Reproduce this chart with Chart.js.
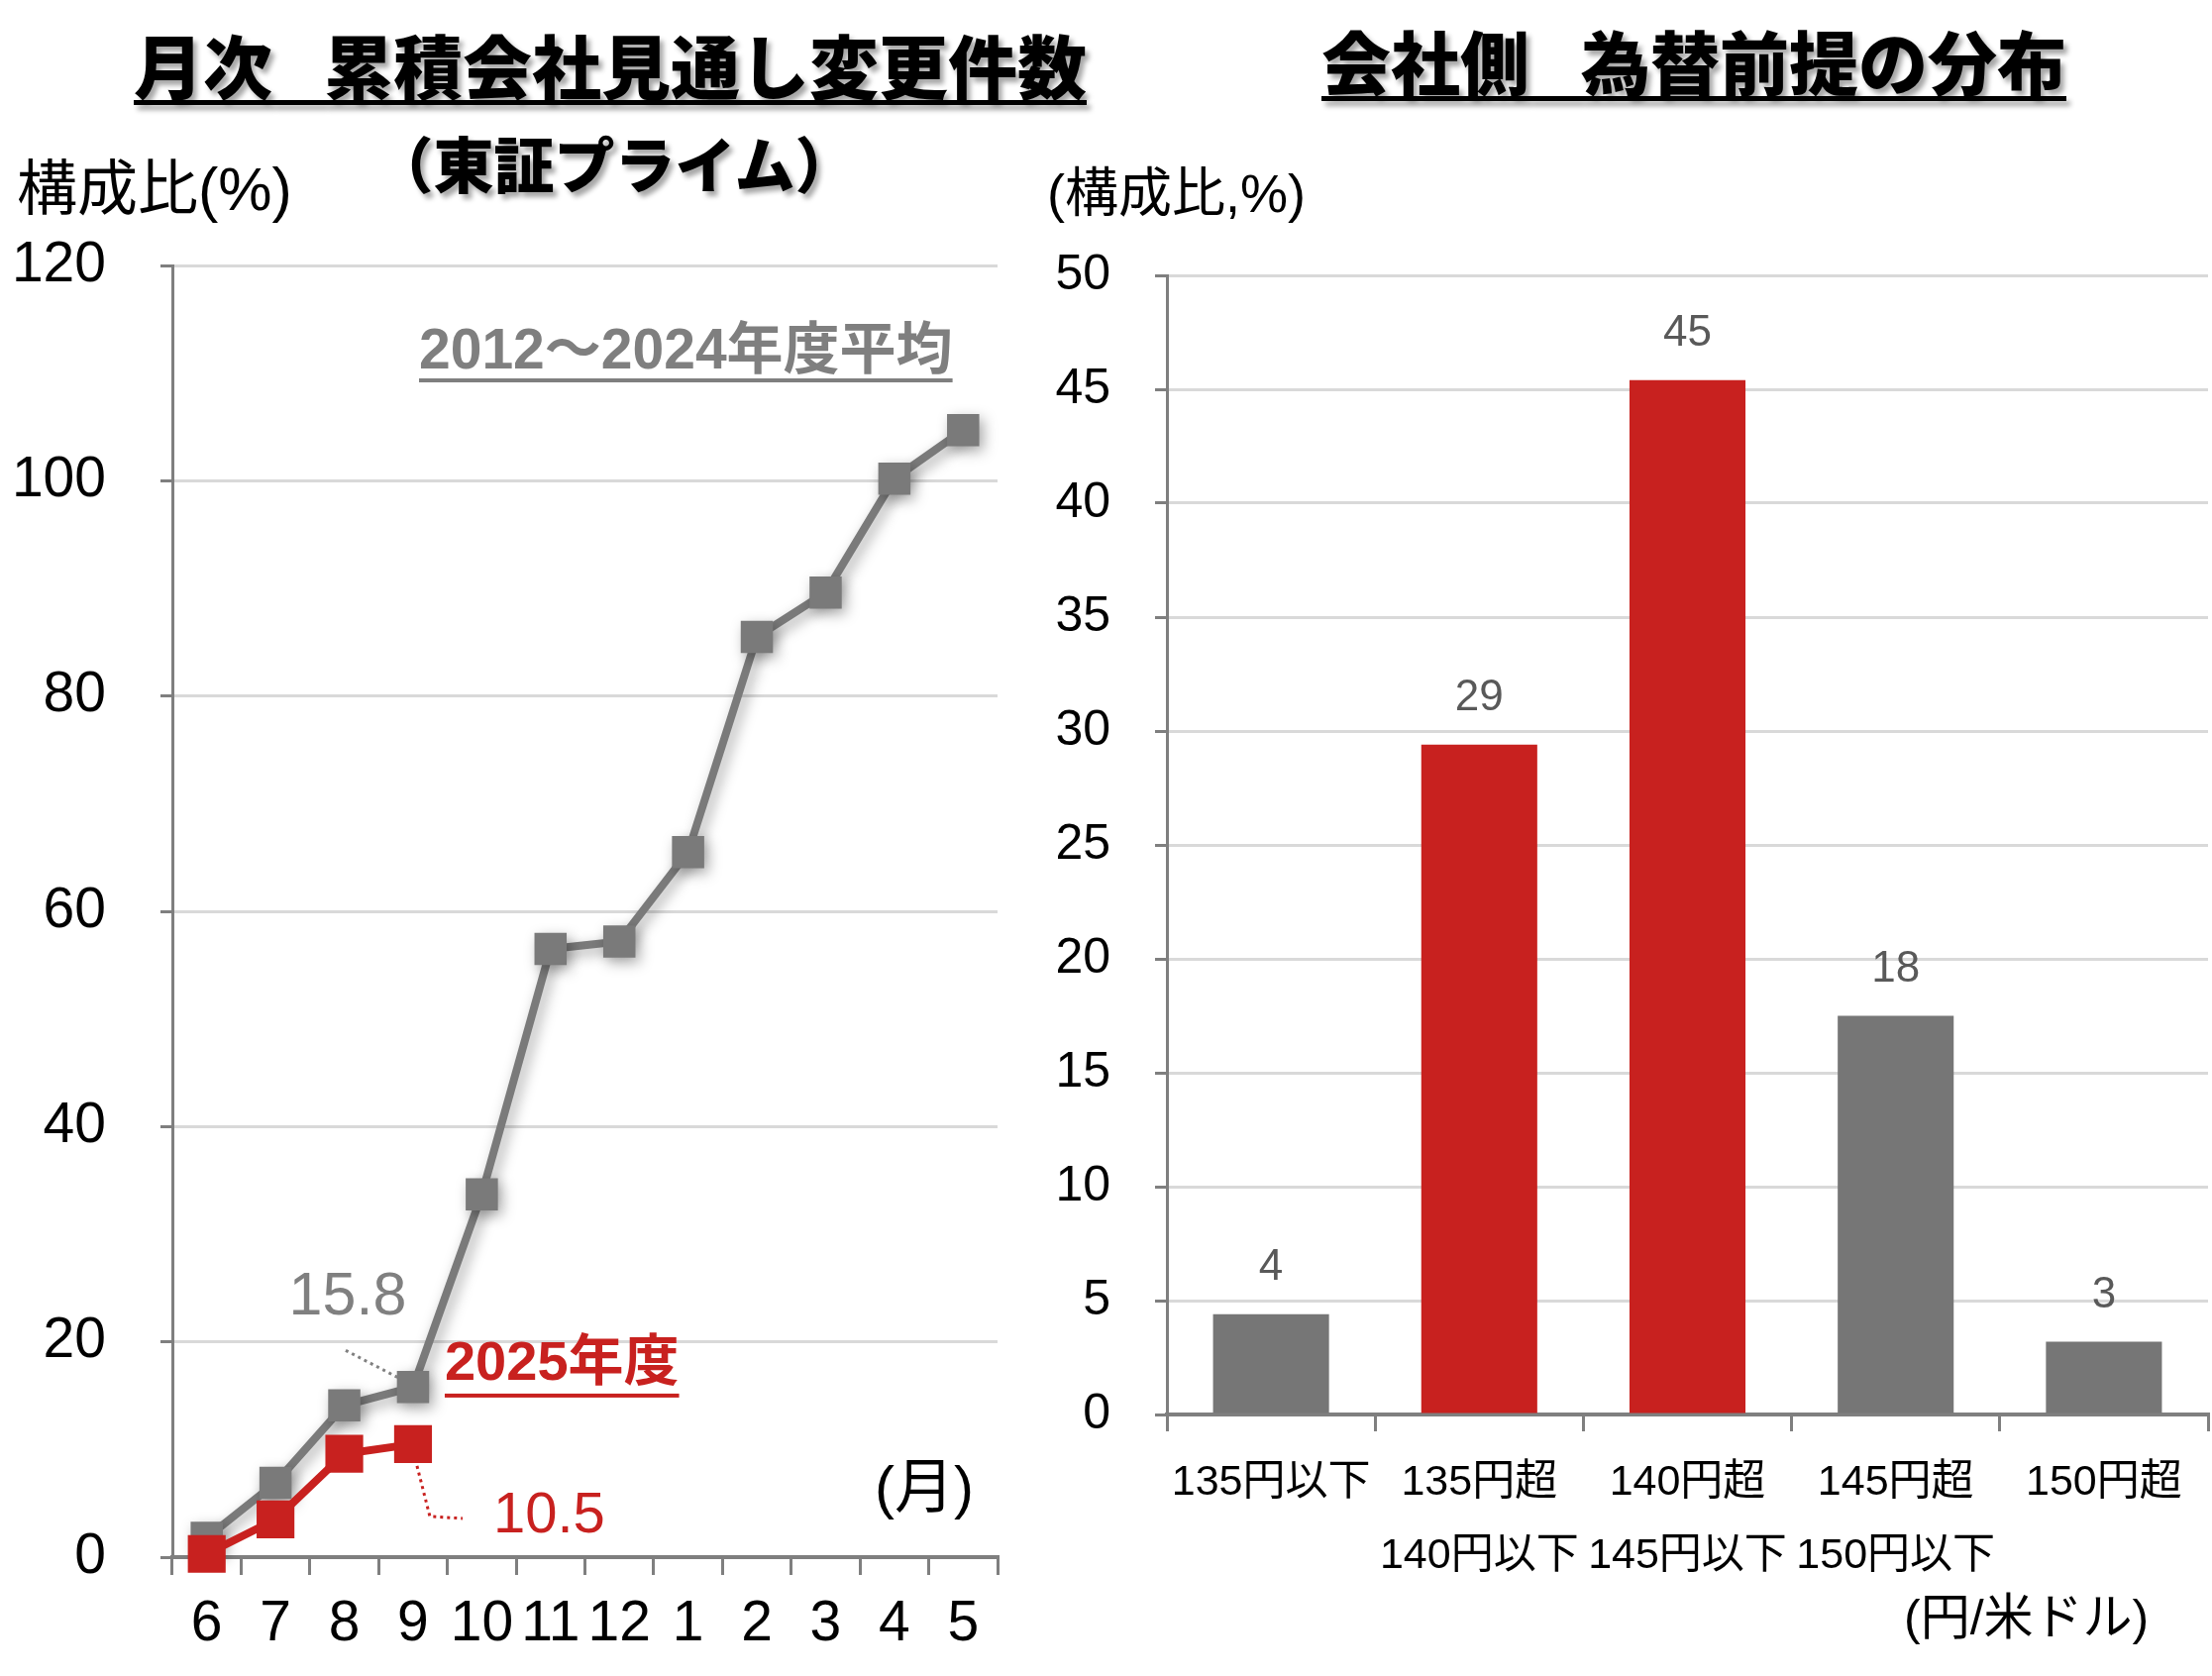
<!DOCTYPE html>
<html lang="ja">
<head>
<meta charset="utf-8">
<title>累積会社見通し変更件数・為替前提の分布</title>
<script src="https://cdn.jsdelivr.net/npm/chart.js@4.4.1/dist/chart.umd.min.js"></script>
<style>
  html, body { margin: 0; padding: 0; background: #fff; }
  body {
    width: 2233px; height: 1692px; position: relative; overflow: hidden;
    font-family: "Liberation Sans", Arial, "Noto Sans CJK JP", sans-serif;
  }
  .pane { position: absolute; top: 0; }
  .title {
    position: absolute; white-space: nowrap; line-height: 1; color: #000;
    font-family: "Noto Sans CJK JP", sans-serif; font-weight: 900;
    text-shadow: 4px 5px 5px rgba(0, 0, 0, 0.35);
  }
  .under { text-decoration: underline; text-decoration-thickness: 5px; text-underline-offset: 6px; }
  .gap { letter-spacing: -18px; }
  .label { position: absolute; white-space: nowrap; line-height: 1; color: #000; }
</style>
</head>
<body>

<div class="title under" style="left:135px; top:30px; font-size:70px;">月次<span class="gap">　</span>累積会社見通し変更件数</div>
<div class="title" style="left:320px; width:600px; text-align:center; top:133px; font-size:61px;">（東証プライム）</div>
<div class="title under" style="left:1334px; top:26px; font-size:70px;">会社側<span class="gap">　</span>為替前提の分布</div>

<div class="label" style="left:17px; top:161px; font-size:61px;">構成比(%)</div>
<div class="label" style="left:1057px; top:168px; font-size:54px;">(構成比,%)</div>
<div class="label" style="left:1922px; top:1608px; font-size:50px;">(円/米ドル)</div>

<div class="pane" style="left:0; width:1040px; height:1692px;">
  <canvas id="lineChart" width="1040" height="1692"></canvas>
</div>
<div class="pane" style="left:1040px; width:1193px; height:1692px;">
  <canvas id="barChart" width="1193" height="1692"></canvas>
</div>

<script>
// 月次 累積会社見通し変更件数（構成比、%）
const months = ["6", "7", "8", "9", "10", "11", "12", "1", "2", "3", "4", "5"];
const avg2012to2024 = [1.8, 6.9, 14.1, 15.8, 33.7, 56.5, 57.2, 65.5, 85.5, 89.6, 100.2, 104.7];
const fy2025 = [0.3, 3.5, 9.6, 10.5];

// 会社側 為替前提の分布（構成比、%）
const fxBands = [
  ["135円以下"],
  ["135円超", "140円以下"],
  ["140円超", "145円以下"],
  ["145円超", "150円以下"],
  ["150円超"],
];
const fxShares = [4.4, 29.4, 45.4, 17.5, 3.2];
const fxHighlight = [false, true, true, false, false];

const RED = "#c8211f";
const GRAY = "#7a7a7a";
const AXIS = "#7f7f7f";
const GRID = "#d9d9d9";

Chart.defaults.font.family = '"Liberation Sans", Arial, "Noto Sans CJK JP", sans-serif';
Chart.defaults.color = "#000";

// shadow under the gray average line
const lineShadow = {
  id: "lineShadow",
  beforeDatasetDraw(chart, args) {
    if (args.index !== 1) return;
    const ctx = chart.ctx;
    ctx.save();
    ctx.shadowColor = "rgba(0,0,0,0.35)";
    ctx.shadowBlur = 14;
    ctx.shadowOffsetX = 4;
    ctx.shadowOffsetY = 5;
  },
  afterDatasetDraw(chart, args) {
    if (args.index !== 1) return;
    chart.ctx.restore();
  },
};

function underlined(ctx, text, x, y, color, gap) {
  ctx.fillStyle = color;
  ctx.textAlign = "left";
  ctx.textBaseline = "middle";
  ctx.fillText(text, x, y);
  const w = ctx.measureText(text).width;
  ctx.fillRect(x, y + gap, w, 4);
}

const lineNotes = {
  id: "lineNotes",
  afterDatasetsDraw(chart) {
    const ctx = chart.ctx;
    const area = chart.chartArea;
    const r = chart.getDatasetMeta(0).data[3];
    const g = chart.getDatasetMeta(1).data[3];
    ctx.save();

    ctx.font = 'bold 57px "Liberation Sans", Arial, "Noto Sans CJK JP", sans-serif';
    underlined(ctx, "2012～2024年度平均", area.left + 249, area.top + 88, "#7f7f7f", 26);

    ctx.font = 'bold 56px "Liberation Sans", Arial, "Noto Sans CJK JP", sans-serif';
    underlined(ctx, "2025年度", r.x + 32, r.y - 80, RED, 29);

    ctx.font = '61px "Liberation Sans", Arial, sans-serif';
    ctx.fillStyle = "#808080";
    ctx.textAlign = "center";
    ctx.textBaseline = "middle";
    ctx.fillText("15.8", g.x - 66, g.y - 90);

    ctx.font = '58px "Liberation Sans", Arial, sans-serif';
    ctx.fillStyle = RED;
    ctx.textAlign = "left";
    ctx.fillText("10.5", r.x + 81, r.y + 73);

    ctx.setLineDash([3, 4]);
    ctx.lineWidth = 3;
    ctx.strokeStyle = "#808080";
    ctx.beginPath();
    ctx.moveTo(g.x - 68, g.y - 37);
    ctx.lineTo(g.x - 12, g.y - 8);
    ctx.stroke();

    ctx.strokeStyle = RED;
    ctx.beginPath();
    ctx.moveTo(r.x + 4, r.y + 22);
    ctx.lineTo(r.x + 17, r.y + 73);
    ctx.lineTo(r.x + 50, r.y + 75);
    ctx.stroke();
    ctx.setLineDash([]);

    ctx.font = '60px "Liberation Sans", Arial, "Noto Sans CJK JP", sans-serif';
    ctx.fillStyle = "#000";
    ctx.textAlign = "right";
    ctx.fillText("(月)", area.right - 24, area.bottom - 67);
    ctx.restore();
  },
};

new Chart(document.getElementById("lineChart").getContext("2d"), {
  type: "line",
  data: {
    labels: months,
    datasets: [
      {
        label: "2025年度",
        data: fy2025,
        borderColor: RED,
        backgroundColor: RED,
        borderWidth: 8,
        pointStyle: "rect",
        pointRadius: 27,
        pointBorderWidth: 0,
        tension: 0,
        clip: false,
        order: 0,
      },
      {
        label: "2012～2024年度平均",
        data: avg2012to2024,
        borderColor: GRAY,
        backgroundColor: GRAY,
        borderWidth: 8,
        pointStyle: "rect",
        pointRadius: 23,
        pointBorderWidth: 0,
        tension: 0,
        clip: false,
        order: 1,
      },
    ],
  },
  options: {
    responsive: false,
    animation: false,
    layout: { padding: { top: 268, right: 33, left: 0, bottom: 0 } },
    plugins: { legend: { display: false }, tooltip: { enabled: false } },
    scales: {
      x: {
        offset: true,
        grid: { offset: true, drawOnChartArea: false, tickLength: 18, color: AXIS, lineWidth: 3 },
        border: { color: AXIS, width: 4 },
        ticks: { font: { size: 57 }, padding: 16, maxRotation: 0, autoSkip: false },
        afterFit(scale) { scale.height = 120; },
      },
      y: {
        min: 0,
        max: 120,
        ticks: { stepSize: 20, font: { size: 57 }, padding: 55 },
        grid: { color: GRID, lineWidth: 3, tickColor: AXIS, tickLength: 12 },
        border: { color: AXIS, width: 3 },
        afterFit(scale) { scale.width = 174; },
      },
    },
  },
  plugins: [lineShadow, lineNotes],
});

const barValues = {
  id: "barValues",
  afterDatasetsDraw(chart) {
    const ctx = chart.ctx;
    const meta = chart.getDatasetMeta(0);
    ctx.save();
    ctx.font = '44px "Liberation Sans", Arial, sans-serif';
    ctx.fillStyle = "#595959";
    ctx.textAlign = "center";
    ctx.textBaseline = "middle";
    meta.data.forEach((bar, i) => {
      ctx.fillText(String(Math.round(fxShares[i])), bar.x, bar.y - 47);
    });
    ctx.restore();
  },
};

new Chart(document.getElementById("barChart").getContext("2d"), {
  type: "bar",
  data: {
    labels: fxBands,
    datasets: [
      {
        label: "構成比",
        data: fxShares,
        backgroundColor: fxHighlight.map((h) => (h ? RED : "#767676")),
        categoryPercentage: 1,
        barPercentage: 0.557,
      },
    ],
  },
  options: {
    responsive: false,
    animation: false,
    layout: { padding: { top: 278, right: 4, left: 0, bottom: 0 } },
    plugins: { legend: { display: false }, tooltip: { enabled: false } },
    scales: {
      x: {
        grid: { offset: true, drawOnChartArea: false, tickLength: 17, color: AXIS, lineWidth: 3 },
        border: { color: AXIS, width: 4 },
        ticks: { font: { size: 43, lineHeight: 1.7 }, padding: 16, maxRotation: 0, minRotation: 0, autoSkip: false },
        afterFit(scale) { scale.height = 264; },
      },
      y: {
        min: 0,
        max: 50,
        ticks: { stepSize: 5, font: { size: 50 }, padding: 45 },
        grid: { color: GRID, lineWidth: 3, tickColor: AXIS, tickLength: 12 },
        border: { color: AXIS, width: 3 },
        afterFit(scale) { scale.width = 138; },
      },
    },
  },
  plugins: [barValues],
});
</script>
</body>
</html>
